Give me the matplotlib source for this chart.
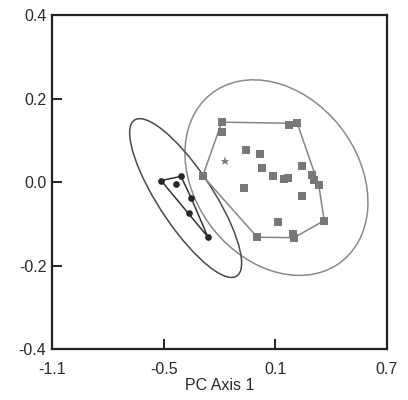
import matplotlib.pyplot as plt
from matplotlib.patches import Ellipse

plt.rcParams['font.family'] = ['Liberation Sans', 'DejaVu Sans']

# group 1 (filled circles)
circle_x = [-0.514, -0.407, -0.435, -0.351, -0.362, -0.263]
circle_y = [0.004, 0.014, -0.004, -0.039, -0.073, -0.131]

# group 2 (grey squares)
square_x = [-0.188, -0.187, 0.174, 0.218, -0.056, 0.018, 0.028, 0.088, 0.145, 0.167, 0.243,
            0.295, 0.309, 0.333, -0.068, 0.243, -0.290, 0.363, 0.114, 0.003, 0.193, 0.200]
square_y = [0.144, 0.120, 0.137, 0.141, 0.077, 0.067, 0.035, 0.016, 0.008, 0.009, 0.040,
            0.018, 0.006, -0.007, -0.013, -0.032, 0.015, -0.092, -0.096, -0.132, -0.125, -0.133]

star_x = [-0.172]
star_y = [0.051]

# ellipses: centre x, centre y, width, height, angle (data units)
circle_ell = [-0.382, -0.038, 0.686, 0.191, -30.0]
square_ell = [0.106, 0.011, 0.992, 0.450, -8.6]

x_ticks = [-1.1, -0.5, 0.1, 0.7]
x_labels = ['-1.1', '-0.5', '0.1', '0.7']
y_ticks = [-0.4, -0.2, 0.0, 0.2, 0.4]
y_labels = ['-0.4', '-0.2', '0.0', '0.2', '0.4']


def hull(xs, ys):
    pts = sorted(zip(xs, ys))

    def cross(o, a, b):
        return (a[0] - o[0]) * (b[1] - o[1]) - (a[1] - o[1]) * (b[0] - o[0])

    lower = []
    for p in pts:
        while len(lower) >= 2 and cross(lower[-2], lower[-1], p) <= 0:
            lower.pop()
        lower.append(p)
    upper = []
    for p in reversed(pts):
        while len(upper) >= 2 and cross(upper[-2], upper[-1], p) <= 0:
            upper.pop()
        upper.append(p)
    ring = lower[:-1] + upper[:-1]
    ring.append(ring[0])
    return [p[0] for p in ring], [p[1] for p in ring]


fig = plt.figure(figsize=(4.08, 4.0), dpi=100)
ax = fig.add_axes([0.1275, 0.1275, 0.821, 0.834])

cx, cy, w, h, a = square_ell
ax.add_patch(Ellipse((cx, cy), w, h, angle=a, fill=False, ec='#8a8a8a', lw=1.1))
cx, cy, w, h, a = circle_ell
ax.add_patch(Ellipse((cx, cy), w, h, angle=a, fill=False, ec='#4a4a4a', lw=1.1))

hx, hy = hull(square_x, square_y)
ax.plot(hx, hy, color='#858585', lw=1.1)
hx, hy = hull(circle_x, circle_y)
ax.plot(hx, hy, color='#333333', lw=1.1)

ax.plot(square_x, square_y, 's', color='#787878', ms=5.6, mew=0)
ax.plot(circle_x, circle_y, 'o', color='#262626', ms=4.8, mew=0)
ax.plot(star_x, star_y, '*', color='#7a7a7a', ms=6.5, mew=0)

ax.set_xlim(-1.1, 0.7)
ax.set_ylim(-0.4, 0.4)
ax.set_xticks(x_ticks)
ax.set_xticklabels(x_labels)
ax.set_yticks(y_ticks)
ax.set_yticklabels(y_labels)
ax.tick_params(direction='in', length=7.5, width=1.4, labelsize=11.5,
               color='#222222', labelcolor='#2a2a2a')
ax.tick_params(axis='x', pad=9)
ax.tick_params(axis='y', pad=4)
ax.set_xlabel('PC Axis 1', fontsize=11.5, labelpad=1, color='#2a2a2a')
for s in ax.spines.values():
    s.set_linewidth(1.6)
    s.set_color('#222222')

fig.savefig('out.png', dpi=100)
